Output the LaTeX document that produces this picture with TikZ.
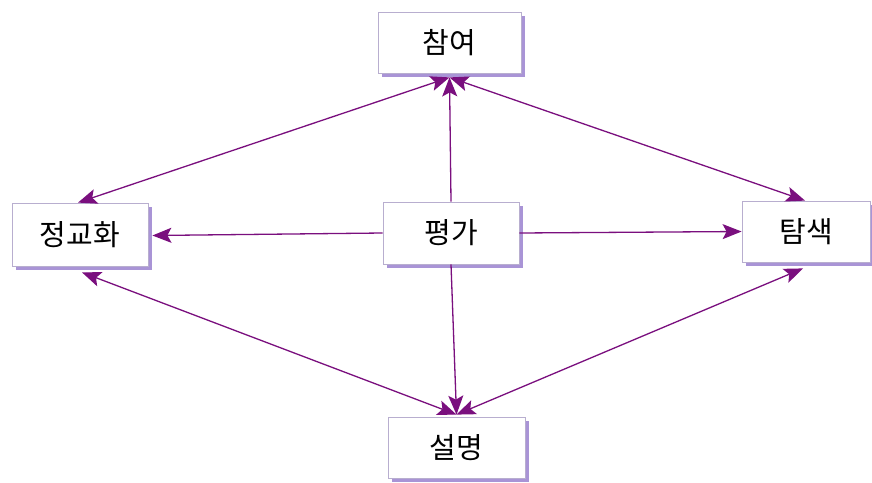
\documentclass[tikz,border=0pt]{standalone}
\usepackage{fontspec}
\setmainfont{Noto Sans CJK KR}
\usetikzlibrary{arrows.meta,shadows}
\definecolor{arrowc}{HTML}{7A0F7E}
\definecolor{borderc}{HTML}{B8AECF}
\definecolor{shadowc}{HTML}{A994D6}
\tikzset{
  box/.style={draw=borderc, line width=0.8pt, fill=white, inner sep=0pt,
    font=\fontsize{29}{30}\selectfont,
    drop shadow={shadow xshift=4pt, shadow yshift=-4pt, fill=shadowc, opacity=1}},
  conn/.style={draw=arrowc, line width=1.3pt},
  tip/.style={-{Stealth[length=19pt,width=15pt,inset=4pt]}},
  dtip/.style={{Stealth[length=19pt,width=15pt,inset=4pt]}-{Stealth[length=19pt,width=15pt,inset=4pt]}}
}
\begin{document}
\begin{tikzpicture}[x=1pt,y=-1pt]
\useasboundingbox[fill=white] (0,0) rectangle (872,482);
\node[box, minimum width=143pt, minimum height=61pt] (cam) at (449.5,42.5) {참여};
\node[box, minimum width=136pt, minimum height=63pt] (jeong) at (80,234.5) {정교화};
\node[box, minimum width=136pt, minimum height=62pt] (pyeong) at (451,233) {평가};
\node[box, minimum width=128pt, minimum height=61pt] (tam) at (806,231.5) {탐색};
\node[box, minimum width=137pt, minimum height=61pt] (seol) at (456.5,447.5) {설명};
\coordinate (camS) at ([yshift=-4pt]cam.south);
\coordinate (jeongN) at ([xshift=-2pt]jeong.north);
\coordinate (jeongS) at ([xshift=2pt,yshift=-6pt]jeong.south);
\coordinate (jeongE) at ([xshift=4pt,yshift=-1pt]jeong.east);
\coordinate (tamN) at ([xshift=-1pt]tam.north);
\coordinate (tamS) at ([xshift=-3pt,yshift=-6pt]tam.south);
\coordinate (seolN) at ([yshift=2pt]seol.north);
\path[conn, dtip] (camS) -- (jeongN);
\path[conn, dtip] (camS) -- (tamN);
\path[conn, dtip] (jeongS) -- (seolN);
\path[conn, dtip] (tamS) -- (seolN);
\path[conn, tip] (pyeong.north) -- (camS);
\path[conn, tip] (pyeong.south) -- (seolN);
\path[conn, tip] (pyeong.west) -- (jeongE);
\path[conn, tip] (pyeong.east) -- (tam.west);
\end{tikzpicture}
\end{document}
